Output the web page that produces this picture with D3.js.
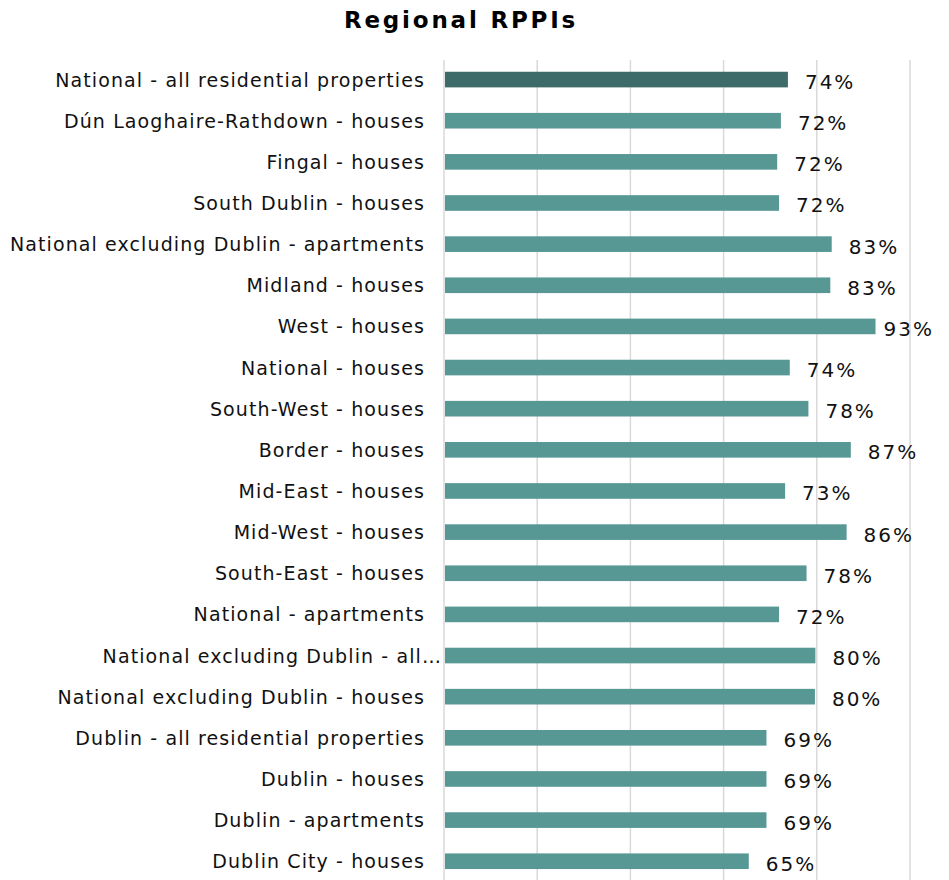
<!DOCTYPE html>
<html>
<head>
<meta charset="utf-8">
<script src="https://cdn.jsdelivr.net/npm/d3@7"></script>
<style>
  html, body { margin: 0; padding: 0; background: #ffffff; }
  svg { display: block; }
</style>
</head>
<body>
<svg id="chart" width="949" height="880"></svg>
<script>
const title = "Regional RPPIs";
const categories = [
  "National - all residential properties",
  "Dún Laoghaire-Rathdown - houses",
  "Fingal - houses",
  "South Dublin - houses",
  "National excluding Dublin - apartments",
  "Midland - houses",
  "West - houses",
  "National - houses",
  "South-West - houses",
  "Border - houses",
  "Mid-East - houses",
  "Mid-West - houses",
  "South-East - houses",
  "National - apartments",
  "National excluding Dublin - all…",
  "National excluding Dublin - houses",
  "Dublin - all residential properties",
  "Dublin - houses",
  "Dublin - apartments",
  "Dublin City - houses"
];
const values = [73.8, 72.3, 71.5, 71.9, 83.2, 82.9, 92.6, 74.2, 78.2, 87.3,
                73.2, 86.4, 77.8, 71.9, 79.7, 79.6, 69.2, 69.2, 69.2, 65.4];
const gridTicks = [0, 20, 40, 60, 80, 100];

const data = categories.map((c, i) => ({ cat: c, val: values[i], i }));

const svg = d3.select("#chart");
const x = d3.scaleLinear().domain([0, 100]).range([444, 910]);
const y = d3.scaleBand().domain(categories).range([59, 881.8])
  .paddingInner(0.62).paddingOuter(0.31);

// title
svg.append("text")
  .attr("x", 461).attr("y", 28)
  .attr("text-anchor", "middle")
  .attr("font-family", "DejaVu Sans, Verdana, sans-serif")
  .attr("font-weight", "bold")
  .attr("font-size", 23)
  .attr("letter-spacing", 2.8)
  .attr("fill", "#000")
  .text(title);

// gridlines
svg.append("g").selectAll("line").data(gridTicks).join("line")
  .attr("x1", d => x(d)).attr("x2", d => x(d))
  .attr("y1", 60).attr("y2", 880)
  .attr("stroke", "#d9d9d9").attr("stroke-width", 1.5);

// bars
svg.append("g").selectAll("rect").data(data).join("rect")
  .attr("x", x(0) + 1)
  .attr("y", d => y(d.cat))
  .attr("width", d => x(d.val) - x(0) - 1)
  .attr("height", y.bandwidth())
  .attr("fill", d => d.i === 0 ? "#3d6b69" : "#579895");

// category labels
svg.append("g").selectAll("text").data(data).join("text")
  .attr("x", d => d.cat.endsWith("…") ? 442 : 425)
  .attr("y", d => y(d.cat) + y.bandwidth() / 2 + 7)
  .attr("text-anchor", "end")
  .attr("font-family", "DejaVu Sans, Verdana, sans-serif")
  .attr("font-size", 19)
  .attr("letter-spacing", 1.1)
  .attr("fill", "#111")
  .text(d => d.cat);

// value labels
const vl = svg.append("g").selectAll("text").data(data).join("text")
  .attr("y", d => y(d.cat) + y.bandwidth() / 2 + 9.5)
  .attr("font-family", "DejaVu Sans, Verdana, sans-serif")
  .attr("font-size", 20)
  .attr("letter-spacing", 2)
  .attr("fill", "#111")
  .text(d => Math.round(d.val) + "%");
vl.each(function(d) {
  const w = this.getComputedTextLength();
  const px = Math.min(x(d.val) + 17, 934 - w);
  d3.select(this).attr("x", px);
});
</script>
</body>
</html>
